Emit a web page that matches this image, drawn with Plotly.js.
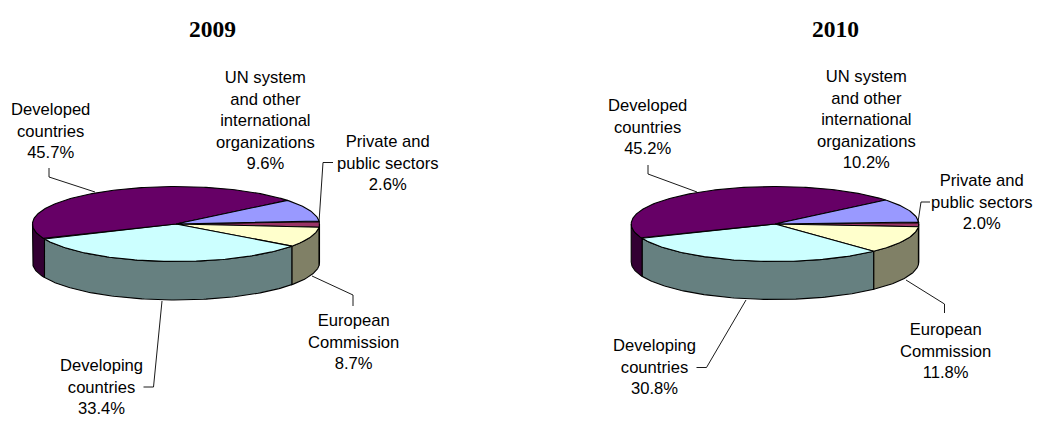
<!DOCTYPE html>
<html><head><meta charset="utf-8">
<script src="https://cdn.plot.ly/plotly-3.0.1.min.js"></script>
<style>html,body{margin:0;padding:0;background:#fff}</style></head>
<body><div id="chart" style="width:1038px;height:431px"></div>
<script>
// Data
var categories = ['Private and public sectors','European Commission','Developing countries','Developed countries','UN system and other international organizations'];
var values2009 = [2.6, 8.7, 33.4, 45.7, 9.6];
var values2010 = [2.0, 11.8, 30.8, 45.2, 10.2];
var years = ['2009','2010'];
var labelLines = [['Private and','public sectors'],['European','Commission'],['Developing','countries'],['Developed','countries'],['UN system','and other','international','organizations']];
var topColors = ['#993366','#FFFFCC','#CCFFFF','#660066','#9999FF'];
var sideColors = ['#4D1A33','#808066','#668080','#330033','#4D4D80'];

// Layout of the two pies
var pies = [
 {cx:176, cy:224, rx:143.5, ry:37.5, depth:38.5, start:-4.5, values:values2009, titleX:212,
  labels:[[387,163],[353,342],[101,387],[50,131],[265.5,120]],
  leaders:[[[333,162.5],[323,162.5],[319,222]],[[312,276],[353,295],[353,306]],[[162,301],[153.5,387],[143.5,387]],[[49,168],[49,177],[95,192]]]},
 {cx:775, cy:224, rx:143.8, ry:37.5, depth:38, start:-3, values:values2010, titleX:835,
  labels:[[981,202],[945.5,351],[654,367],[647,127],[866,119.5]],
  leaders:[[[930,202],[921,202],[918,222]],[[906,280],[944.5,304],[944.5,313]],[[746,300],[706.5,367.5],[696.5,367.5]],[[648,165],[648,174],[697,192]]]}
];

function pt(p,t,dy){var r=t*Math.PI/180;return [p.cx+p.rx*Math.cos(r),p.cy+p.ry*Math.sin(r)+(dy||0)];}
function arc(p,a,b,dy){var o=[],n=Math.max(2,Math.ceil(Math.abs(b-a)));for(var i=0;i<=n;i++){o.push(pt(p,a+(b-a)*i/n,dy));}return o;}
function poly(points,fill){return {type:'scatter',mode:'lines',x:points.map(function(q){return q[0]}),y:points.map(function(q){return q[1]}),
  fill:'toself',fillcolor:fill,line:{color:'#000',width:1.1},hoverinfo:'skip',showlegend:false};}

var traces=[], annotations=[];
pies.forEach(function(p,pi){
  var total=p.values.reduce(function(a,b){return a+b},0), a=p.start, spans=[];
  p.values.forEach(function(v){var b=a+v/total*360;spans.push([a,b]);a=b;});
  // visible outer wall, back to front
  spans.forEach(function(s,i){
    var lo=Math.max(s[0],0),hi=Math.min(s[1],180);
    if(hi>lo){traces.push(poly(arc(p,lo,hi,0).concat(arc(p,hi,lo,p.depth)).concat([pt(p,lo,0)]),sideColors[i]));}
  });
  // top face
  spans.forEach(function(s,i){
    traces.push(poly([[p.cx,p.cy]].concat(arc(p,s[0],s[1],0)).concat([[p.cx,p.cy]]),topColors[i]));
  });
  // leader lines
  p.leaders.forEach(function(l){
    traces.push({type:'scatter',mode:'lines',x:l.map(function(q){return q[0]}),y:l.map(function(q){return q[1]}),line:{color:'#000',width:0.9},hoverinfo:'skip',showlegend:false});
  });
  // labels
  categories.forEach(function(c,i){
    annotations.push({x:p.labels[i][0],y:p.labels[i][1],xref:'x',yref:'y',showarrow:false,xanchor:'center',yanchor:'middle',align:'center',
      text:labelLines[i].concat([p.values[i].toFixed(1)+'%']).join('<br>'),font:{family:'Liberation Sans, Arial, sans-serif',size:16.6,color:'#000'}});
  });
  annotations.push({x:p.titleX,y:29,xref:'x',yref:'y',showarrow:false,xanchor:'center',yanchor:'middle',text:'<b>'+years[pi]+'</b>',
    font:{family:'Liberation Serif, Times New Roman, serif',size:23.5,color:'#000'}});
});

Plotly.newPlot('chart',traces,{
  width:1038,height:431,margin:{l:0,r:0,t:0,b:0},paper_bgcolor:'#fff',plot_bgcolor:'#fff',showlegend:false,
  xaxis:{range:[0,1038],visible:false,fixedrange:true},
  yaxis:{range:[431,0],visible:false,fixedrange:true},
  annotations:annotations
},{displayModeBar:false,staticPlot:true});
</script></body></html>
